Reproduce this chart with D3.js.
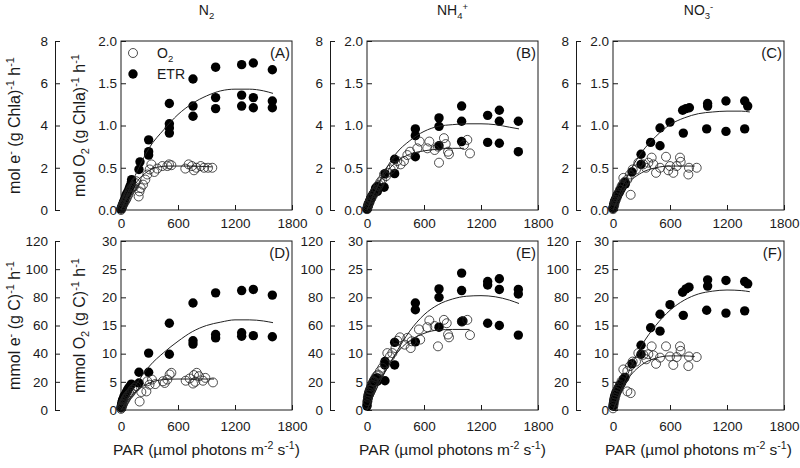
<!DOCTYPE html>
<html><head><meta charset="utf-8">
<script src="https://cdn.jsdelivr.net/npm/d3@7"></script>
<style>
body{margin:0;background:#fff}
text{font-family:Arial,"Liberation Sans",sans-serif;fill:#1a1a1a}
</style></head>
<body><svg id="c" width="800" height="468"></svg>
<script>
// ---------- tick labels ----------
const parTicks = [0, 600, 1200, 1800];
const chlInnerTicks = [0, 0.5, 1.0, 1.5, 2.0];
const chlOuterTicks = [0, 2, 4, 6, 8];
const cInnerTicks = [0, 5, 10, 15, 20, 25, 30];
const cOuterTicks = [0, 20, 40, 60, 80, 100, 120];
const columnTitles = ["N2", "NH4+", "NO3-"];
const panelLabels = ["(A)", "(B)", "(C)", "(D)", "(E)", "(F)"];

// ---------- data: [PAR, rate] ----------
const etrA = [[0,0.01],[5,0.02],[10,0.04],[15,0.05],[20,0.07],[25,0.09],[30,0.1],[40,0.13],[50,0.16],[55,0.18],[65,0.2],[75,0.22],[85,0.25],[95,0.28],[105,0.3],[110,0.33],[112,0.36],[189,0.48],[200,0.57],[291,0.65],[291,0.69],[291,0.83],[509,0.91],[509,0.97],[509,1.02],[509,1.26],[758,1.11],[758,1.23],[758,1.55],[996,1.20],[996,1.33],[996,1.69],[1270,1.23],[1270,1.36],[1270,1.72],[1393,1.21],[1393,1.33],[1393,1.74],[1593,1.21],[1593,1.29],[1593,1.66]];
const o2A = [[0,0.0],[5,0.02],[10,0.03],[15,0.05],[20,0.06],[30,0.08],[40,0.1],[50,0.12],[60,0.14],[70,0.17],[80,0.19],[90,0.22],[100,0.24],[110,0.27],[126,0.27],[137,0.28],[150,0.32],[161,0.34],[186,0.16],[195,0.22],[207,0.26],[232,0.30],[256,0.36],[277,0.42],[302,0.48],[320,0.54],[351,0.45],[382,0.49],[435,0.52],[488,0.52],[505,0.54],[530,0.53],[677,0.49],[712,0.54],[747,0.52],[768,0.47],[793,0.50],[839,0.52],[874,0.50],[916,0.50],[961,0.50]];
const etrB = [[0,0.01],[5,0.03],[10,0.04],[15,0.06],[20,0.08],[25,0.1],[35,0.12],[40,0.14],[50,0.16],[60,0.18],[74,0.2],[85,0.23],[91,0.26],[100,0.25],[109,0.22],[109,0.28],[180,0.27],[189,0.43],[291,0.43],[291,0.60],[509,0.63],[509,0.88],[509,0.96],[758,0.76],[758,0.99],[758,1.09],[996,0.81],[996,1.05],[996,1.23],[1270,0.80],[1270,1.12],[1393,0.79],[1393,1.05],[1393,1.18],[1593,0.69],[1593,1.05]];
const o2B = [[0,0.01],[5,0.03],[10,0.05],[15,0.07],[21,0.08],[30,0.1],[40,0.13],[46,0.14],[60,0.17],[74,0.20],[85,0.22],[102,0.24],[115,0.28],[126,0.30],[140,0.33],[161,0.36],[179,0.42],[200,0.40],[214,0.44],[249,0.48],[284,0.52],[319,0.58],[354,0.54],[389,0.58],[425,0.65],[453,0.69],[530,0.73],[554,0.81],[635,0.73],[656,0.81],[712,0.71],[747,0.75],[758,0.56],[810,0.85],[828,0.78],[853,0.69],[863,0.66],[1021,0.77],[1056,0.83],[1084,0.67]];
const etrC = [[0,0.02],[4,0.04],[8,0.06],[12,0.08],[16,0.1],[21,0.11],[28,0.13],[35,0.15],[45,0.17],[55,0.19],[65,0.21],[74,0.23],[85,0.25],[100,0.28],[126,0.33],[130,0.31],[200,0.45],[295,0.54],[295,0.66],[396,0.80],[495,0.76],[495,0.97],[600,1.04],[733,1.18],[740,0.91],[768,1.20],[804,1.21],[986,0.96],[996,1.23],[996,1.26],[1189,0.93],[1189,1.29],[1386,0.96],[1386,1.29],[1418,1.23]];
const o2C = [[0,0.01],[5,0.03],[10,0.05],[15,0.07],[21,0.10],[30,0.12],[40,0.15],[46,0.18],[60,0.2],[74,0.24],[90,0.28],[102,0.30],[109,0.38],[120,0.33],[151,0.36],[179,0.42],[186,0.18],[207,0.48],[242,0.48],[267,0.56],[319,0.54],[347,0.50],[372,0.56],[407,0.62],[425,0.54],[453,0.44],[495,0.50],[558,0.63],[582,0.47],[600,0.52],[635,0.44],[670,0.52],[705,0.62],[712,0.57],[793,0.42],[800,0.50],[881,0.50]];
const etrD = [[0,0.4],[4,0.8],[8,1.1],[12,1.4],[16,1.7],[21,1.9],[28,2.2],[35,2.5],[46,2.8],[55,3.1],[65,3.4],[74,3.7],[85,4.0],[100,4.3],[109,4.6],[189,4.8],[189,6.7],[291,6.7],[291,10.1],[509,9.9],[509,15.4],[758,11.7],[758,12.3],[758,19.0],[996,12.8],[996,13.4],[996,20.8],[1270,13.1],[1270,13.7],[1270,21.2],[1393,13.2],[1393,21.4],[1593,13.0],[1593,20.4]];
const o2D = [[0,0.2],[5,0.4],[10,0.6],[15,0.9],[21,1.1],[30,1.4],[40,1.7],[50,2.0],[60,2.3],[74,2.6],[90,2.9],[105,3.2],[120,3.6],[140,3.9],[160,4.2],[196,1.5],[214,3.2],[267,3.3],[277,5.1],[300,4.5],[326,5.4],[360,4.6],[442,5.1],[460,4.8],[488,5.4],[512,6.3],[530,6.6],[681,5.2],[723,5.6],[758,4.7],[768,6.2],[782,5.0],[797,6.6],[821,6.0],[863,5.2],[888,5.7],[968,4.9]];
const etrE = [[0,0.7],[4,1.5],[8,2.0],[12,2.4],[16,2.8],[21,3.1],[30,3.5],[39,3.8],[46,4.2],[56,4.6],[66,5.0],[74,5.3],[90,5.6],[109,5.1],[109,5.7],[189,5.2],[189,8.0],[189,8.6],[291,8.0],[291,12.0],[509,12.1],[509,17.8],[509,19.0],[758,14.7],[758,20.0],[758,21.5],[996,15.7],[1010,15.8],[996,21.2],[996,24.3],[1270,15.4],[1270,22.2],[1270,22.8],[1393,15.0],[1393,21.4],[1393,23.3],[1593,13.3],[1593,20.6],[1593,21.4]];
const o2E = [[0,1.0],[5,1.6],[10,2.2],[15,2.7],[21,3.1],[30,3.6],[39,3.6],[46,4.2],[56,4.5],[66,5.0],[74,5.1],[90,5.8],[105,6.1],[116,6.3],[137,6.9],[161,7.5],[186,8.3],[214,10.1],[242,9.5],[267,10.1],[300,11.0],[319,12.3],[347,12.9],[396,11.6],[425,12.8],[460,11.0],[470,12.2],[547,14.3],[560,12.5],[635,14.7],[656,15.9],[712,14.9],[747,11.3],[810,16.0],[839,15.4],[853,13.4],[863,12.9],[1000,15.7],[1056,16.0],[1084,13.3]];
const etrF = [[0,0.7],[4,1.2],[8,1.6],[12,2.0],[16,2.3],[21,2.6],[28,2.9],[35,3.2],[46,3.5],[55,3.8],[65,4.1],[74,4.4],[90,4.8],[109,5.4],[126,5.8],[200,8.2],[295,9.9],[295,11.5],[396,14.6],[495,14.0],[495,17.0],[600,18.7],[733,20.9],[740,16.8],[768,21.5],[800,21.8],[986,17.7],[996,22.0],[996,23.1],[1189,17.2],[1189,23.0],[1386,17.6],[1386,22.8],[1418,22.4]];
const o2F = [[0,0.3],[5,0.8],[10,1.3],[15,1.8],[21,2.2],[30,2.7],[40,3.2],[50,3.6],[60,4.0],[74,4.5],[90,5.1],[109,7.2],[115,5.6],[151,6.9],[151,3.3],[179,7.8],[186,3.0],[207,8.6],[242,8.6],[267,10.1],[319,9.8],[350,9.0],[372,9.9],[407,11.3],[425,9.7],[453,8.2],[495,9.3],[558,11.3],[600,9.5],[635,8.0],[670,9.4],[705,11.3],[712,10.5],[793,7.8],[800,9.5],[881,9.4]];

// fitted curves: [PAR, rate]
const fitEtrA = [[0,0],[150,0.41],[300,0.74],[450,0.95],[600,1.13],[750,1.26],[900,1.35],[1050,1.41],[1200,1.43],[1350,1.43],[1500,1.41],[1600,1.38]];
const fitO2A = [[0,0],[100,0.22],[200,0.38],[300,0.47],[400,0.51],[500,0.52],[700,0.52],[960,0.51]];
const fitEtrB = [[0,0],[150,0.38],[300,0.66],[450,0.82],[600,0.93],[750,0.99],[900,1.01],[1050,1.02],[1200,1.02],[1350,1.01],[1500,0.98],[1600,0.96]];
const fitO2B = [[0,0],[150,0.36],[300,0.56],[450,0.66],[600,0.70],[750,0.72],[900,0.73],[1020,0.73]];
const fitEtrC = [[0,0],[150,0.40],[300,0.68],[450,0.87],[600,1.01],[750,1.09],[900,1.14],[1050,1.16],[1200,1.17],[1350,1.17],[1440,1.16]];
const fitO2C = [[0,0],[150,0.30],[300,0.44],[450,0.50],[600,0.52],[750,0.52],[860,0.52]];
const fitEtrD = [[0,0],[150,4.3],[300,7.8],[450,10.2],[600,12.2],[750,13.9],[900,15.0],[1050,15.6],[1200,16.0],[1350,16.0],[1500,15.8],[1600,15.5]];
const fitO2D = [[0,0],[150,3.2],[300,4.8],[450,5.4],[600,5.5],[750,5.5],[980,5.5]];
const fitEtrE = [[0,0],[150,5.5],[300,10.0],[450,14.0],[600,16.9],[750,18.7],[900,19.7],[1050,20.2],[1200,20.3],[1350,20.1],[1500,19.5],[1600,18.9]];
const fitO2E = [[0,0],[150,5.5],[300,9.8],[450,12.3],[600,13.6],[750,14.2],[900,14.3],[1080,14.3]];
const fitEtrF = [[0,0],[150,6.2],[300,11.4],[450,15.0],[600,17.7],[750,19.5],[900,20.6],[1050,21.1],[1200,21.3],[1350,21.2],[1440,21.0]];
const fitO2F = [[0,0],[150,5.3],[300,8.0],[450,9.2],[600,9.6],[750,9.6],[860,9.5]];

// ---------- layout ----------
const svg = d3.select("#c");
svg.append("rect").attr("width",800).attr("height",468).attr("fill","#fff");
const colX = [121, 367, 613], rowY = [41, 241], W = 171, H = 169;
const outerX = [55, 330, 576];
const ink = "#1a1a1a";
const rFill = 4.7, rOpen = 4.5;

const rows = [
  {inMax:2.0, outMax:8, inTicks:chlInnerTicks, outTicks:chlOuterTicks, fmt:d3.format(".1f"), xPad:8.5,
   outTitle:[["mol e"],["-","sup"],[" (g Chla)"],["-1","sup"],[" h"],["-1","sup"]],
   inTitle:[["mol O"],["2","sub"],[" (g Chla)"],["-1","sup"],[" h"],["-1","sup"]]},
  {inMax:30, outMax:120, inTicks:cInnerTicks, outTicks:cOuterTicks, fmt:d3.format("d"), xPad:11,
   outTitle:[["mmol e"],["-","sup"],[" (g C)"],["-1","sup"],[" h"],["-1","sup"]],
   inTitle:[["mmol O"],["2","sub"],[" (g C)"],["-1","sup"],[" h"],["-1","sup"]]}
];
const data = [[etrA,o2A,fitEtrA,fitO2A],[etrB,o2B,fitEtrB,fitO2B],[etrC,o2C,fitEtrC,fitO2C],
              [etrD,o2D,fitEtrD,fitO2D],[etrE,o2E,fitEtrE,fitO2E],[etrF,o2F,fitEtrF,fitO2F]];

function rich(sel, parts, size){
  let shift = 0;
  parts.forEach(p=>{
    const t = p[1]||"n";
    const target = t==="sup" ? -0.38*size : t==="sub" ? 0.25*size : 0;
    const ts = sel.append("tspan").text(p[0]).attr("dy", target-shift);
    if(t!=="n") ts.attr("font-size", size*0.68);
    shift = target;
  });
}

for(let i=0;i<6;i++){
  const col = i%3, row = Math.floor(i/3), R = rows[row];
  const x0 = colX[col], y0 = rowY[row];
  const x = d3.scaleLinear().domain([0,1800]).range([x0, x0+W]);
  const y = d3.scaleLinear().domain([0,R.inMax]).range([y0+H, y0]);
  const yo = d3.scaleLinear().domain([0,R.outMax]).range([y0+H, y0]);
  const [etr, o2, fe, fo] = data[i];

  // outer axis (electron units)
  const ga = svg.append("g").attr("transform",`translate(${outerX[col]},0)`)
    .call(d3.axisLeft(yo).tickValues(R.outTicks).tickSize(-5).tickSizeOuter(0).tickPadding(7).tickFormat(d3.format("d")));
  ga.selectAll("text").attr("font-size",13.5).attr("fill",ink).attr("font-family",null);
  ga.selectAll("line,path").attr("stroke",ink);

  // inner axis (O2 units)
  const gi = svg.append("g").attr("transform",`translate(${x0},0)`)
    .call(d3.axisLeft(y).tickValues(R.inTicks).tickSize(-5).tickSizeOuter(0).tickPadding(4).tickFormat(R.fmt));
  gi.select(".domain").remove();
  gi.selectAll("text").attr("font-size",13.5).attr("fill",ink).attr("font-family",null);
  gi.selectAll("line").attr("stroke",ink);

  // x axis
  const gx = svg.append("g").attr("transform",`translate(0,${y0+H})`)
    .call(d3.axisBottom(x).tickValues(parTicks).tickSize(-5).tickSizeOuter(0).tickPadding(R.xPad).tickFormat(d3.format("d")));
  gx.select(".domain").remove();
  gx.selectAll("text").attr("font-size",13.5).attr("fill",ink).attr("font-family",null);
  gx.selectAll("line").attr("stroke",ink);

  // box
  svg.append("rect").attr("x",x0).attr("y",y0).attr("width",W).attr("height",H)
    .attr("fill","none").attr("stroke",ink).attr("stroke-width",1);

  const line = d3.line().x(d=>x(d[0])).y(d=>y(d[1])).curve(d3.curveMonotoneX);
  const g = svg.append("g");
  g.selectAll("circle.e").data(etr).join("circle").attr("class","e")
    .attr("cx",d=>x(d[0])).attr("cy",d=>y(d[1])).attr("r",rFill).attr("fill","#000");
  g.selectAll("circle.o").data(o2).join("circle").attr("class","o")
    .attr("cx",d=>x(d[0])).attr("cy",d=>y(d[1])).attr("r",rOpen)
    .attr("fill","none").attr("stroke","#222").attr("stroke-width",0.8);
  g.append("path").attr("d",line(fe)).attr("fill","none").attr("stroke","#222").attr("stroke-width",1);
  g.append("path").attr("d",line(fo)).attr("fill","none").attr("stroke","#222").attr("stroke-width",1);

  svg.append("text").attr("x",x0+W-2).attr("y",y0+17).attr("text-anchor","end")
    .attr("font-size",15).text(panelLabels[i]);

  // x title
  if(row===1){
    const t = svg.append("text").attr("x",x0+W/2).attr("y",455).attr("text-anchor","middle").attr("font-size",15.5);
    rich(t,[["PAR (µmol photons m"],["-2","sup"],[" s"],["-1","sup"],[")"]],15.5);
  }
  // column titles
  if(row===0){
    const tt = svg.append("text").attr("x",x0+W/2).attr("y",15).attr("text-anchor","middle").attr("font-size",14);
    const ct = columnTitles[col];
    if(col===0) rich(tt,[["N"],["2","sub"]],14);
    else rich(tt,[[ct.slice(0,2)],[ct[2],"sub"],[ct[3],"sup"]],14);
  }
  // y titles
  if(col===0){
    const cy = y0+H/2;
    const t1 = svg.append("text").attr("transform",`translate(20,${cy}) rotate(-90)`).attr("text-anchor","middle").attr("font-size",16);
    rich(t1, R.outTitle, 16);
    const t2 = svg.append("text").attr("transform",`translate(85,${cy}) rotate(-90)`).attr("text-anchor","middle").attr("font-size",16);
    rich(t2, R.inTitle, 16);
  }
}

// legend (panel A)
const lx = colX[0]+12, ly1 = 53, ly2 = 74;
svg.append("circle").attr("cx",lx).attr("cy",ly1).attr("r",rOpen).attr("fill","none").attr("stroke","#222").attr("stroke-width",0.8);
svg.append("circle").attr("cx",lx).attr("cy",ly2).attr("r",rFill).attr("fill","#000");
const lt1 = svg.append("text").attr("x",lx+24).attr("y",ly1+5).attr("font-size",14);
rich(lt1,[["O"],["2","sub"]],14);
svg.append("text").attr("x",lx+24).attr("y",ly2+5).attr("font-size",14).text("ETR");
</script></body></html>
